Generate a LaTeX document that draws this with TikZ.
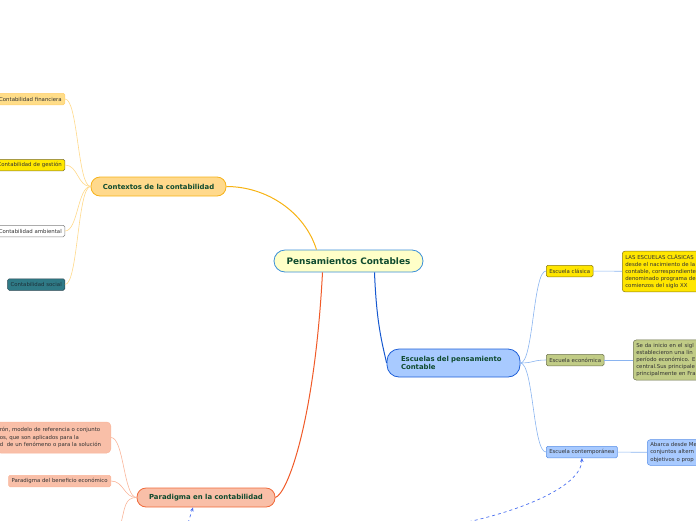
\documentclass[tikz,border=0pt]{standalone}
\usepackage{fontspec}
\setmainfont{DejaVu Sans}
\usetikzlibrary{arrows.meta}
\definecolor{cenfill}{HTML}{FFFFC8}
\definecolor{cenbrd}{HTML}{3A8FD8}
\definecolor{deepgreen}{HTML}{0E4A2E}
\definecolor{ctxfill}{HTML}{FFD98C}
\definecolor{ctxbrd}{HTML}{F6B21A}
\definecolor{ctxline}{HTML}{F7B314}
\definecolor{ctxleaf}{HTML}{FFD98A}
\definecolor{finfill}{HTML}{FFDD88}
\definecolor{finbrd}{HTML}{FFCF6E}
\definecolor{gesfill}{HTML}{FFE800}
\definecolor{gesbrd}{HTML}{7A6E3A}
\definecolor{socfill}{HTML}{2F7A86}
\definecolor{socbrd}{HTML}{2A4550}
\definecolor{escfill}{HTML}{A8CAFF}
\definecolor{escbrd}{HTML}{1E5FD8}
\definecolor{escline}{HTML}{1558D0}
\definecolor{escleaf}{HTML}{8AB4F0}
\definecolor{clafill}{HTML}{FFE600}
\definecolor{clabrd}{HTML}{8A7A10}
\definecolor{ecofill}{HTML}{C1CC86}
\definecolor{ecobrd}{HTML}{6E7350}
\definecolor{conbrd}{HTML}{5A90E8}
\definecolor{parfill}{HTML}{F9BFA8}
\definecolor{parbrd}{HTML}{F06A3A}
\definecolor{parline}{HTML}{F05A28}
\definecolor{parleaf}{HTML}{F9B59A}
\definecolor{leaftxt}{HTML}{333333}
\definecolor{dashblue}{HTML}{4A6FF0}

\begin{document}
\begin{tikzpicture}[x=1pt,y=-1pt,
  font=\fontsize{5.4}{7.2}\selectfont,
  main/.style={draw,line width=0.8pt,rounded corners=9pt,text=deepgreen,
    font=\fontsize{6.9}{8.4}\selectfont\bfseries,inner sep=3pt},
  leaf/.style={draw,line width=0.5pt,rounded corners=1.5pt,text=leaftxt,
    minimum height=11.5pt,inner sep=3pt},
  note/.style={leaf,rounded corners=3pt,align=left,anchor=west,text width=120pt},
  link/.style={line width=0.6pt},
  arr/.style={-{Stealth[length=4pt,width=3.5pt]},dashed,line width=0.7pt,dashblue}
]
\useasboundingbox (0,0) rectangle (696,520);
\clip (0,0) rectangle (696,520);

\node[main,fill=cenfill,draw=cenbrd,minimum width=149pt,minimum height=22pt,
  rounded corners=11pt,font=\fontsize{8.9}{10}\selectfont\bfseries] (central) at (348.5,261) {Pensamientos Contables};

\node[main,fill=ctxfill,draw=ctxbrd,minimum width=135pt,minimum height=19pt] (ctx) at (158.5,186.5) {Contextos de la contabilidad};
\node[leaf,fill=finfill,draw=finbrd,anchor=east] (fin) at (65,99) {Contabilidad financiera};
\node[leaf,fill=gesfill,draw=gesbrd,anchor=east] (ges) at (65,165) {Contabilidad de gestión};
\node[leaf,fill=white,draw=gray,anchor=east] (amb) at (65,231) {Contabilidad ambiental};
\node[leaf,fill=socfill,draw=socbrd,anchor=east,text=socbrd!70!black] (soc) at (65,284.5) {Contabilidad social};

\node[main,fill=escfill,draw=escbrd,minimum height=28pt,rounded corners=12pt,
  align=left,text width=105pt,inner xsep=14pt] (esc) at (453.5,363) {Escuelas del pensamiento\\Contable};
\node[leaf,fill=clafill,draw=clabrd,anchor=west] (cla) at (546,271) {Escuela clásica};
\node[leaf,fill=ecofill,draw=ecobrd,anchor=west] (eco) at (546,360) {Escuela económica};
\node[leaf,fill=escfill,draw=conbrd,anchor=west] (con) at (546,452) {Escuela contemporánea};
\node[note,fill=clafill,draw=clabrd,minimum height=37pt] (clan) at (622,271.5) {LAS ESCUELAS CLÁSICAS\\desde el nacimiento de la\\contable, correspondiente\\denominado programa de\\comienzos del siglo XX};
\node[note,fill=ecofill,draw=ecobrd,minimum height=38pt] (econ) at (633,360) {Se da inicio en el sigl\\establecieron una lín\\período económico. E\\central.Sus principale\\principalmente en Fra};
\node[note,fill=escfill,draw=conbrd,minimum height=25pt] (conn) at (647,452.5) {Abarca desde Me\\conjuntos altern\\objetivos o prop};

\node[main,fill=parfill,draw=parbrd,minimum width=138pt,minimum height=19pt] (par) at (206,497.5) {Paradigma en la contabilidad};
\node[leaf,fill=parfill,draw=parleaf,anchor=east,align=left,text width=108pt,
  minimum height=31pt,rounded corners=4pt] (pdef) at (111,437.5) {rón, modelo de referencia o conjunto\\os, que son aplicados para la\\d\ \ de un fenómeno o para la solución};
\node[leaf,fill=parfill,draw=parleaf,anchor=east] (pben) at (111,481) {Paradigma del beneficio económico};
\coordinate (pmore) at (121,523);

\draw[link,ctxline,line width=1pt] ([xshift=-32pt]central.north) .. controls +(-12,-38) and +(40,0) .. (ctx.east);
\draw[link,escline,line width=1pt] ([xshift=26pt]central.south) .. controls +(2,50) and +(-5,-22) .. (esc.west);
\draw[link,parline,line width=1pt] ([xshift=-26pt]central.south) .. controls +(-8,150) and +(12,-4) .. (par.east);

\foreach \leafname in {fin,ges,amb,soc}
  \draw[link,ctxleaf] (ctx.west) .. controls +(-13,0) and +(13,0) .. (\leafname.east);
\foreach \leafname in {cla,eco,con}
  \draw[link,escleaf] (esc.east) .. controls +(13,0) and +(-13,0) .. (\leafname.west);
\draw[link,escleaf] (cla) -- (clan);
\draw[link,escleaf] (eco) -- (econ);
\draw[link,escleaf] (con) -- (conn);

\draw[link,parleaf] (par.west) .. controls +(-13,0) and +(13,0) .. (pdef.east);
\draw[link,parleaf] (par.west) .. controls +(-13,0) and +(13,0) .. (pben.east);
\draw[link,parleaf] (par.west) .. controls +(-12,0) and +(4,-15) .. (pmore);

\coordinate (dashA) at (463,523);
\coordinate (dashB) at (188,523);
\draw[arr] (dashA) .. controls +(70,-15) and +(0,25) .. (con.south);
\draw[arr] (dashB) -- ([xshift=-13pt]par.south);
\end{tikzpicture}
\end{document}
